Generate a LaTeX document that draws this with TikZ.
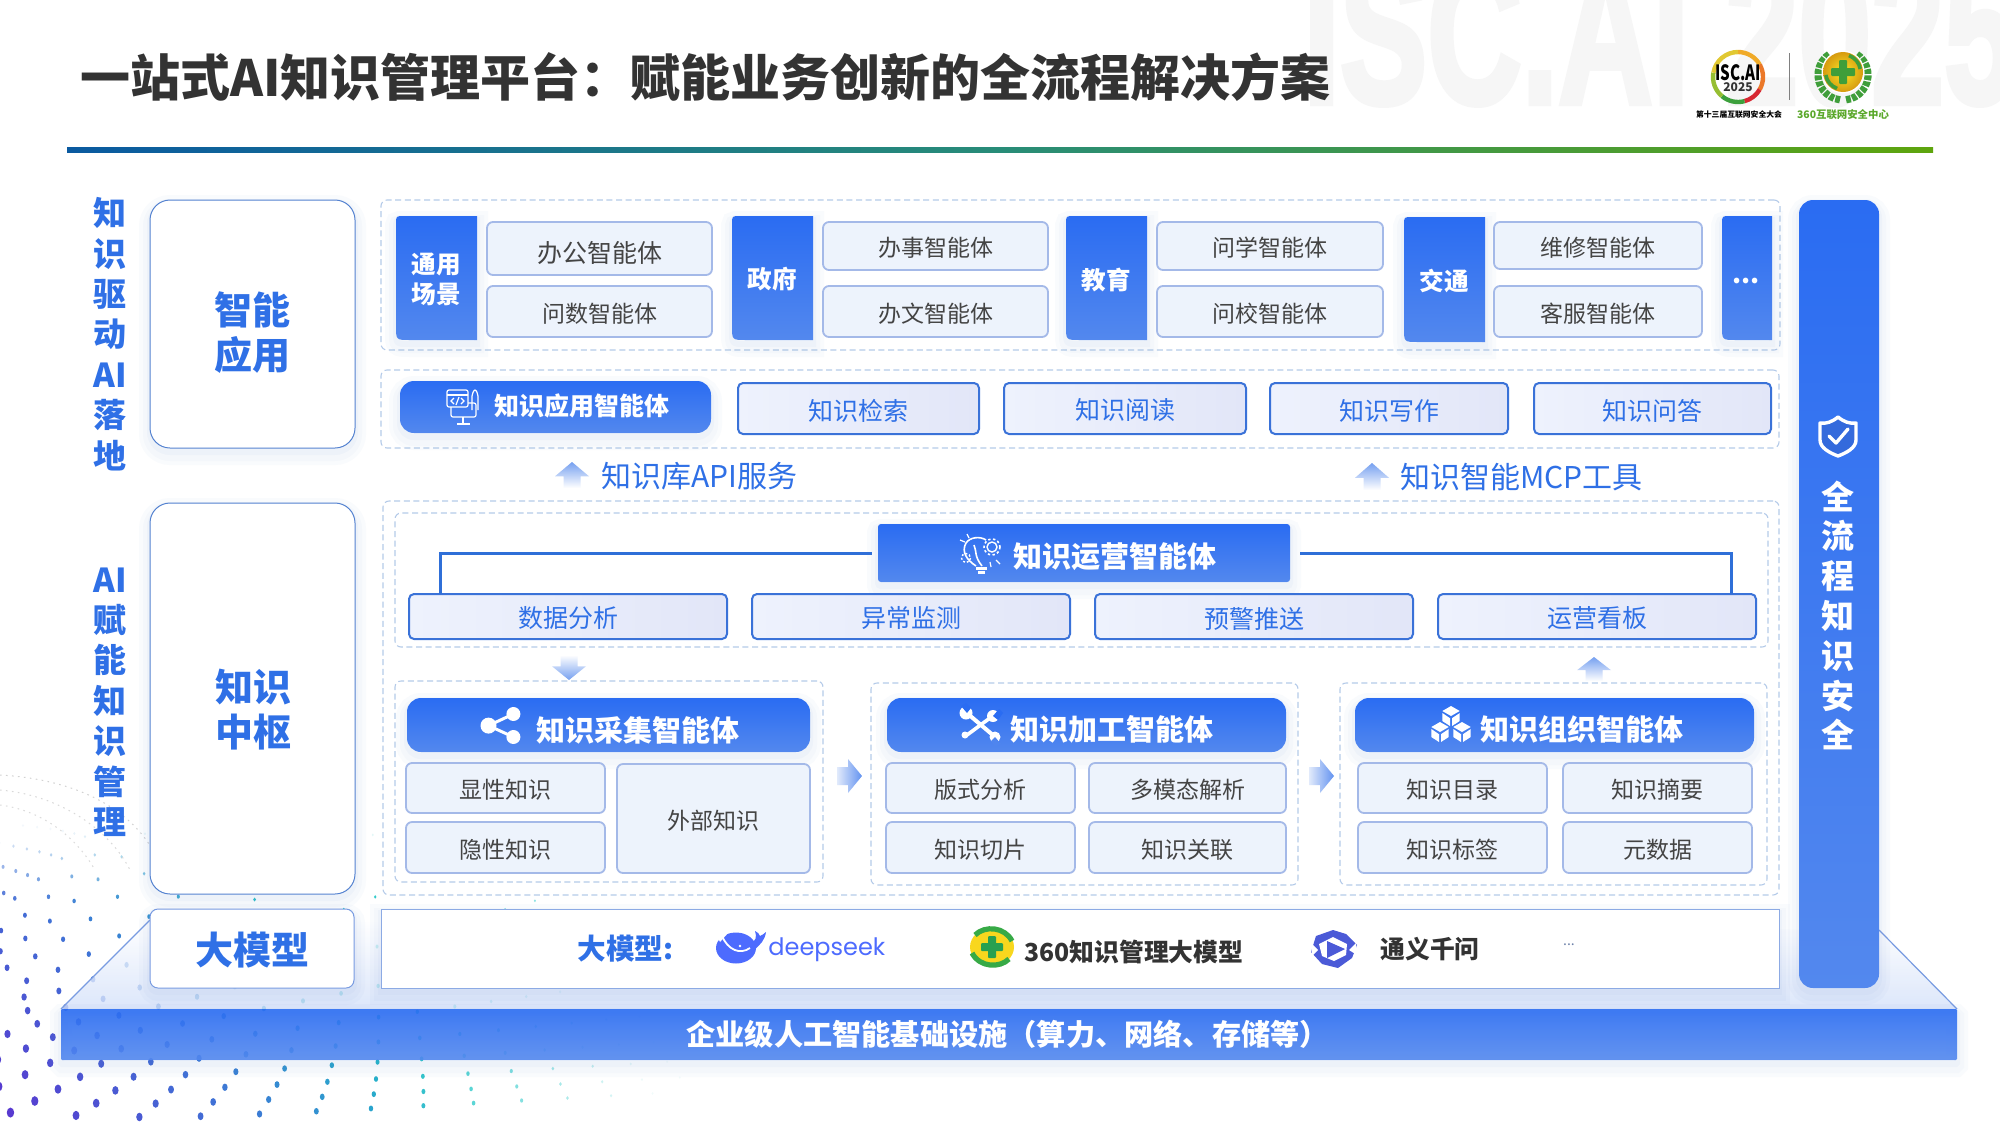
\documentclass[tikz,border=0pt]{standalone}
\usepackage{fontspec}
\setmainfont{Noto Sans CJK SC}
\newfontfamily\dsfont{Poppins}
\newfontfamily\wmfont[BoldFeatures={FakeBold=3}]{Liberation Sans}
\usetikzlibrary{calc}
\definecolor{gtop}{HTML}{2A6CF2}
\definecolor{gbot}{HTML}{5388EE}
\definecolor{blu}{HTML}{2F70E6}
\definecolor{shc}{HTML}{5A80C8}
\definecolor{dk}{HTML}{333333}
\definecolor{gy}{HTML}{444444}
\definecolor{ds}{HTML}{4D6BFE}
\definecolor{grn}{HTML}{3F9E3A}
\definecolor{edgeb}{HTML}{789BE1}
\definecolor{subf}{HTML}{EDF3FC}
\definecolor{subd}{HTML}{A4B9E8}
\definecolor{bbl}{HTML}{EEF2FD}
\definecolor{bbr}{HTML}{E2E6F8}
\definecolor{bbd}{HTML}{3A72D8}
\definecolor{sidd}{HTML}{5482D0}
\definecolor{modd}{HTML}{8CAAE4}
\definecolor{connc}{HTML}{2F6FD8}
\definecolor{arrc}{HTML}{76A0F0}
\definecolor{ral}{HTML}{E1EAFB}
\definecolor{rad}{HTML}{6292F0}
\definecolor{wmc}{HTML}{F6F6F6}
\definecolor{plat}{HTML}{D4E1FA}
\definecolor{linl}{HTML}{0A5AA0}
\definecolor{linm}{HTML}{288C78}
\definecolor{linr}{HTML}{5EA50D}
\definecolor{ra}{HTML}{F0AA28}
\definecolor{rb}{HTML}{EB7828}
\definecolor{rc}{HTML}{D72832}
\definecolor{rd}{HTML}{3CA03C}
\definecolor{re}{HTML}{96BE32}
\definecolor{rf}{HTML}{E1C832}
\definecolor{glin}{HTML}{FAE628}
\definecolor{glout}{HTML}{D79B0F}
\definecolor{capg}{HTML}{5AA82A}
\definecolor{qy}{HTML}{F8D71E}
\definecolor{qg}{HTML}{37AA46}
\definecolor{qp}{HTML}{28A050}
\definecolor{tyc}{HTML}{4B5AD7}
\definecolor{morec}{HTML}{6E82AA}
\definecolor{shi}{HTML}{346ADC}
\definecolor{dashc}{HTML}{B5CBE9}
\tikzset{
 x=.5pt,y=-.5pt,
 softshadow/.style={
  preaction={draw=shc,draw opacity=.03,line width=11pt,transform canvas={yshift=-3pt}},
  preaction={draw=shc,draw opacity=.03,line width=7pt,transform canvas={yshift=-3pt}},
  preaction={draw=shc,draw opacity=.04,line width=3pt,transform canvas={yshift=-2pt}}},
 dashbox/.style={draw=dashc,fill=white,line width=.55pt,dash pattern=on 3pt off 1.8pt,rounded corners=3pt},
 agentbar/.style={softshadow,top color=gtop,bottom color=gbot,rounded corners=7pt,text=white,font=\fontsize{14.5}{17}\bfseries\selectfont},
 opsbar/.style={softshadow,top color=gtop,bottom color=gbot,rounded corners=1.5pt,text=white,font=\fontsize{14.5}{17}\bfseries\selectfont},
 subbox/.style={fill=subf,draw=subd,line width=.9pt,rounded corners=3pt,text=gy,font=\fontsize{11.5}{14}\selectfont},
 bluebox/.style={left color=bbl,right color=bbr,draw=bbd,line width=1pt,rounded corners=2.5pt,text=blu,font=\fontsize{12.5}{15}\selectfont},
 sidebox/.style={softshadow,fill=white,draw=sidd,line width=.5pt,rounded corners=10pt},
 sidelabel/.style={text=blu,align=center,inner sep=0pt,font=\fontsize{19}{22.5}\bfseries\selectfont},
 modelbox/.style={fill=white,draw=modd,line width=.5pt,softshadow},
 sidetext/.style={text=blu,align=center,inner sep=0pt,font=\fontsize{16.5}{20.2}\bfseries\selectfont},
 tiletext/.style={text=white,align=center,inner sep=0pt,font=\fontsize{12.3}{15}\bfseries\selectfont},
 flowtext/.style={text=blu,anchor=west,inner sep=0pt,font=\fontsize{15}{18}\selectfont},
 conn/.style={draw=connc,line width=1.5pt},
 upflow/.style={bottom color=white,top color=arrc,draw=none},
 iconline/.style={draw=white,line width=.6pt},
 logotext/.style={text=dk,anchor=west,inner sep=0pt,font=\fontsize{12.4}{15}\bfseries\selectfont},
}
\newcommand\myBox[7]{%
 \pgfmathsetmacro\myW{(#4-#2)*.5}\pgfmathsetmacro\myH{(#5-#3)*.5}%
 \node[#6,minimum width=\myW pt,minimum height=\myH pt,inner sep=0pt] (#1) at ({(#2+#4)/2},{(#3+#5)/2}) {\raisebox{0pt}[\dimexpr\height+2pt\relax][\depth]{#7}};}
\newcommand\myTile[6]{%
 \path[softshadow,top color=gtop,bottom color=gbot] (#4,#3) -- ({#2+8},#3) .. controls (#2,#3) .. (#2,{#3+8}) -- (#2,{#5-14}) .. controls (#2,#5) .. ({#2+14},#5) -- (#4,#5) -- cycle;
 \node[tiletext] (#1) at ({(#2+#4)/2},{(#3+#5)/2+1.5}) {#6};}
\newcommand\myUp[4]{% cx, top, bottom, halfwidth
 \path[upflow] (#1,#2) -- ({#1+#4},{#2+(#3-#2)*.55}) -- ({#1+#4*.5},{#2+(#3-#2)*.55}) -- ({#1+#4*.5},#3) -- ({#1-#4*.5},#3) -- ({#1-#4*.5},{#2+(#3-#2)*.55}) -- ({#1-#4},{#2+(#3-#2)*.55}) -- cycle;}
\newcommand\myDown[4]{%
 \path[top color=white,bottom color=arrc] (#1,#3) -- ({#1+#4},{#3-(#3-#2)*.55}) -- ({#1+#4*.5},{#3-(#3-#2)*.55}) -- ({#1+#4*.5},#2) -- ({#1-#4*.5},#2) -- ({#1-#4*.5},{#3-(#3-#2)*.55}) -- ({#1-#4},{#3-(#3-#2)*.55}) -- cycle;}
\newcommand\myRight[2]{% x1,cy
 \path[left color=ral,right color=rad] (#1,{#2-9}) -- ({#1+11},{#2-9}) -- ({#1+11},{#2-17}) -- ({#1+25},#2) -- ({#1+11},{#2+17}) -- ({#1+11},{#2+9}) -- (#1,{#2+9}) -- cycle;}
\newcommand\myCube[3]{%
 \fill[white] (#1,{#2-#3}) -- ({#1+.87*#3},{#2-.5*#3}) -- (#1,#2) -- ({#1-.87*#3},{#2-.5*#3}) -- cycle;
 \fill[white] ({#1-.87*#3},{#2-.5*#3+2}) -- ({#1-1},{#2+2.2}) -- ({#1-1},{#2+#3}) -- ({#1-.87*#3},{#2+.5*#3}) -- cycle;
 \fill[white] ({#1+.87*#3},{#2-.5*#3+2}) -- ({#1+1},{#2+2.2}) -- ({#1+1},{#2+#3}) -- ({#1+.87*#3},{#2+.5*#3}) -- cycle;}
\begin{document}
\begin{tikzpicture}
\useasboundingbox (0,0) rectangle (2000,1125);
\fill[white] (0,0) rectangle (2000,1125);
% watermark
\begin{scope}
 \clip (0,0) rectangle (2000,1125);
 \node[anchor=base west,inner sep=0pt,text=wmc] (watermark) at (1303,103) {\scalebox{.655}[1]{\wmfont\fontsize{100}{110}\bfseries\selectfont ISC.AI 2025}};
\end{scope}
% dot field
\begin{scope}
 \clip (0,760) rectangle (700,1125);
 \foreach \rg in {0,...,26}{
  \pgfmathsetmacro\ryt{1117-13.3*\rg}
  \pgfmathsetmacro\rxt{max(150-15*\rg,-60)}
  \pgfmathsetmacro\rmt{min(.055+.0007*\rg*\rg*\rg,1.1)}
  \pgfmathsetmacro\rdt{max(67-3.5*\rg,24)}
  \pgfmathsetmacro\rat{10.5+25*\rg*(1-\rg/60)}
  \foreach \nn in {-14,...,13}{
   \pgfmathsetmacro\xr{\rat+\nn*\rdt}
   \pgfmathsetmacro\xx{\xr-.00025*abs(\xr)*\xr}
   \pgfmathparse{(\xx>-6 && \xx<680) ? 1 : 0}
   \ifdim\pgfmathresult pt>.5pt
   \pgfmathsetmacro\dd{(\xx-\rxt)/100}
   \pgfmathsetmacro\hy{100*sqrt(\dd*\dd+.64)-80}
   \pgfmathsetmacro\yy{\ryt-\rmt*\hy}
   \pgfmathparse{(\yy<1132 && \yy>825) ? 1 : 0}
   \ifdim\pgfmathresult pt>.5pt
    \pgfmathsetmacro\sa{max(0,min(1,(\xx+.9*(1120-\yy))/480))}
    \pgfmathsetmacro\fa{max(.06,min(1,min((660-\xx)/260,(\yy-825)/80)))}
    \pgfmathsetmacro\rr{1+3.4*max(0,1-\xx/700)*max(0,min(1,(\yy-800)/300))}
    \pgfmathsetmacro\sb{min(1,\sa*2)}
    \pgfmathsetmacro\sd{max(0,\sa*2-1)}
    \pgfmathsetmacro\cra{.353-.106*\sb-.137*\sd}
    \pgfmathsetmacro\cga{.208+.247*\sb+.321*\sd}
    \pgfmathsetmacro\cba{.812+.028*\sb-.064*\sd}
    \definecolor{dotc}{rgb}{\cra,\cga,\cba}
    \fill[dotc,opacity=\fa] (\xx,\yy) ellipse [x radius={.85*\rr},y radius={1.15*\rr}];
   \fi
   \fi
  }
 }
 \draw[gray!35,line width=.5pt,dash pattern=on .8pt off 2.2pt] (0,775) .. controls (90,780) and (150,820) .. (165,880);
 \draw[gray!30,line width=.5pt,dash pattern=on .8pt off 2.2pt] (0,790) .. controls (60,795) and (110,830) .. (130,870);
 \draw[gray!28,line width=.5pt,dash pattern=on .8pt off 2.2pt] (0,805) .. controls (40,810) and (75,835) .. (95,870);
\end{scope}
% platform
\path[top color=white,bottom color=plat,fill opacity=.8] (61,1009) -- (150,920) -- (1879,930) -- (1957,1009) -- cycle;
\draw[edgeb,line width=.6pt] (61,1009) -- (150,920);
\draw[edgeb,line width=.6pt] (1957,1009) -- (1879,930);
\myBox{basebar}{61}{1009}{1957}{1060}{softshadow,top color=gtop,bottom color=gbot,fill opacity=.9,rounded corners=.6pt}{}
\node[anchor=west,text=white,inner sep=0pt,font=\fontsize{14.6}{17}\bfseries\selectfont] (basetext) at (686,1034) {企业级人工智能基础设施（算力、网络、存储等）};
% title
\node[anchor=west,inner sep=0pt,text=dk,font=\fontsize{25}{30}\bfseries\selectfont] (title) at (80,77) {一站式AI知识管理平台：赋能业务创新的全流程解决方案};
\path[left color=linl,right color=linr,middle color=linm] (67,147) rectangle (1933,152);
% logos
\foreach \a/\b/\c in {-90/-30/ra,-30/30/rb,30/75/rc,75/130/rd,130/190/re,190/270/rf}{
 \draw[draw=\c,line width=2.2pt] ($(1738,77)+(\a:25)$) arc (\a:\b:25);
}
\node[inner sep=0pt,font=\fontsize{10.5}{12}\bfseries\selectfont,text=black] (iscname) at (1738,73) {\scalebox{.72}[1]{ISC.AI}};
\node[inner sep=0pt,font=\fontsize{6}{8}\bfseries\selectfont,text=dk] (iscyear) at (1738,87) {2025};
\draw[gray,line width=.5pt] (1789,53) -- (1789,100);
\draw[grn,line width=3.6pt,dash pattern=on 2.4pt off .7pt] ($(1843,75)+(97:25)$) arc (97:238:25);
\draw[grn,line width=3.6pt,dash pattern=on 2.4pt off .7pt] ($(1843,75)+(83:25)$) arc (83:-58:25);
\fill[white] (1843,72) circle [radius=21.5];
\shade[inner color=glin,outer color=glout] (1843,72) circle [radius=20];
\draw[grn,line width=1.8pt] ($(1843,72)+(-70:17.5)$) arc (-70:-10:17.5);
\draw[grn,line width=1.8pt] ($(1843,72)+(110:17.5)$) arc (110:170:17.5);
\fill[grn,rounded corners=.5pt] (1839,60) rectangle (1847,84);
\fill[grn,rounded corners=.5pt] (1831,68) rectangle (1855,76);
\node[inner sep=0pt,font=\fontsize{3.9}{5}\bfseries\selectfont,text=black] (isccap) at (1739,115) {第十三届互联网安全大会};
\node[inner sep=0pt,font=\fontsize{5.2}{6}\bfseries\selectfont,text=capg] (qhcap) at (1843,115) {360互联网安全中心};
% left column
\node[sidetext] (leftA) at (110,334) {知\\识\\驱\\动\\AI\\落\\地};
\node[sidetext] (leftB) at (110,702) {AI\\赋\\能\\知\\识\\管\\理};
\myBox{sideApp}{150}{200}{355}{448}{sidebox}{}
\node[sidelabel] (sideAppT) at (252,332.5) {智能\\应用};
\myBox{sideHub}{150}{503}{355}{894}{sidebox}{}
\node[sidelabel] (sideHubT) at (253,709.5) {知识\\中枢};
\myBox{sideModel}{150}{909}{354}{988}{sidebox,rounded corners=4pt,draw=edgeb}{}
\node[sidelabel] (sideModelT) at (252,950) {大模型};
% row 1
\myBox{dash1}{381}{200}{1780}{350}{dashbox}{}
\myTile{tGen}{396}{216}{477}{340}{通用\\场景}
\myBox{s1}{487}{222}{712}{275}{subbox,font=\fontsize{12.5}{15}\selectfont}{\raisebox{0pt}[\dimexpr\height+3pt\relax][\depth]{办公智能体}}
\myBox{s2}{487}{286}{712}{337}{subbox}{问数智能体}
\myTile{tGov}{732}{216}{813}{340}{政府}
\myBox{s3}{823}{222}{1048}{270}{subbox}{办事智能体}
\myBox{s4}{823}{286}{1048}{337}{subbox}{办文智能体}
\myTile{tEdu}{1066}{216}{1147}{340}{教育}
\myBox{s5}{1157}{222}{1383}{270}{subbox}{问学智能体}
\myBox{s6}{1157}{286}{1383}{337}{subbox}{问校智能体}
\myTile{tTra}{1404}{217}{1485}{342}{交通}
\myBox{s7}{1494}{222}{1702}{269}{subbox}{维修智能体}
\myBox{s8}{1494}{286}{1702}{337}{subbox}{客服智能体}
\myTile{tMore}{1722}{216}{1772}{340}{}
\node[tiletext,font=\fontsize{13}{15}\bfseries\selectfont] (tMoreT) at (1746,281) {...};
% row 2
\myBox{dash2}{381}{370}{1779}{448}{dashbox}{}
\myBox{appAgent}{400}{381}{711}{433}{agentbar,font=\fontsize{12.5}{15}\bfseries\selectfont}{}
\node[text=white,inner sep=0pt,font=\fontsize{12.5}{15}\bfseries\selectfont] (appAgentT) at (582,406) {知识应用智能体};
\myBox{a1}{738}{383}{979}{434}{bluebox}{知识检索}
\myBox{a2}{1004}{383}{1246}{434}{bluebox}{知识阅读}
\myBox{a3}{1270}{383}{1508}{434}{bluebox}{知识写作}
\myBox{a4}{1534}{383}{1771}{434}{bluebox}{知识问答}
% monitor icon
\draw[iconline,rounded corners=1pt] (447,390) rectangle (468,407);
\draw[iconline] (447,395) -- (468,395);
\draw[iconline] (454,398) -- (451,401) -- (454,404) (461,398) -- (464,401) -- (461,404) (459,397) -- (456,405);
\draw[iconline,rounded corners=1pt] (468,403) -- (476,403) -- (476,417) -- (451,417) -- (451,407);
\draw[iconline] (463,417) -- (463,423) (457,424) -- (470,424);
\draw[iconline,rounded corners=1pt] (472,410) -- (472,394) -- (475,389) -- (478,394) -- (478,410);
% flow labels
\myUp{572}{462}{488}{17}
\node[flowtext] (apiT) at (601,476) {知识库API服务};
\myUp{1372}{463}{490}{17}
\node[flowtext] (mcpT) at (1400,477) {知识智能MCP工具};
% hub
\myBox{dash3}{383}{501}{1779}{895}{dashbox}{}
\myBox{dashOps}{395}{513}{1768}{647}{dashbox}{}
\myBox{opsAgent}{878}{524}{1290}{582}{opsbar}{}
\node[text=white,inner sep=0pt,font=\fontsize{14.5}{17}\bfseries\selectfont] (opsAgentT) at (1115,557) {知识运营智能体};
\myBox{o1}{409}{594}{727}{639}{bluebox}{数据分析}
\myBox{o2}{752}{594}{1070}{639}{bluebox}{异常监测}
\myBox{o3}{1095}{594}{1413}{639}{bluebox}{预警推送}
\myBox{o4}{1438}{594}{1756}{639}{bluebox}{运营看板}
\coordinate (c1) at (440,594);
\coordinate (c4) at (1731,594);
\draw[conn,shorten <=3pt] (opsAgent.west) -| (c1);
\draw[conn,shorten <=5pt] (opsAgent.east) -| (c4);
% bulb icon
\draw[iconline,line width=.8pt] (982,566) .. controls (974,556) and (977,552) .. (974,545);
\draw[iconline,line width=.8pt] (976,566) .. controls (967,560) and (961,552) .. (966,543) .. controls (970,537) and (980,536) .. (986,540);
\fill[white] (976,567) rectangle (987,570);
\fill[white] (978,571) rectangle (985,574);
\draw[white,line width=.8pt,dash pattern=on 1.2pt off 1.2pt] (992,547) circle [radius=8];
\draw[white,line width=.7pt] (992,547) circle [radius=5];
\draw[white,line width=.7pt,dash pattern=on 1pt off 1pt] (966,558) circle [radius=4.5];
\draw[iconline] (960,540) -- (965,542) (967,534) -- (969,538) (996,560) -- (1000,564) (990,562) -- (991,567);
% arrows between
\myDown{569}{655}{680}{17}
\myUp{1594}{657}{681}{17}
% collect
\myBox{dashC}{395}{681}{823}{882}{dashbox}{}
\myBox{cHead}{407}{698}{810}{752}{agentbar}{}
\node[text=white,inner sep=0pt,font=\fontsize{14.5}{17}\bfseries\selectfont] (cHeadT) at (638,730) {知识采集智能体};
\draw[white,line width=1.5pt] (513.4,714) -- (488.5,725.6) -- (513.4,737);
\fill[white] (488.5,725.6) circle [radius=8] (513.4,714) circle [radius=7] (513.4,737) circle [radius=7];
\myBox{c1b}{406}{763}{605}{813}{subbox}{显性知识}
\myBox{c2b}{406}{822}{605}{873}{subbox}{隐性知识}
\myBox{c3b}{617}{764}{810}{873}{subbox}{外部知识}
\myRight{837}{776}
% process
\myBox{dashP}{871}{683}{1298}{885}{dashbox}{}
\myBox{pHead}{887}{698}{1286}{752}{agentbar}{}
\node[text=white,inner sep=0pt,font=\fontsize{14.5}{17}\bfseries\selectfont] (pHeadT) at (1112,729) {知识加工智能体};
\draw[white,line width=2pt] (968,714) -- (994,736);
\draw[white,line width=1.8pt] (994,715) -- (967,735);
\fill[white] (966,713) circle [radius=6.5] (995,737) circle [radius=5.5] (993,716) circle [radius=6];
\fill[white] (965,735) circle [radius=3.5];
\fill[gtop] (961,706) -- (967,713) -- (971,708) -- (966,703) -- cycle;
\fill[gtop] (999,709) -- (993,716) -- (998,720) -- (1003,713) -- cycle;
\fill[gbot!90!gtop] (1001,744) -- (995,737) -- (991,741) -- (995,747) -- cycle;
\myBox{p1}{886}{763}{1075}{813}{subbox}{版式分析}
\myBox{p2}{1089}{763}{1286}{813}{subbox}{多模态解析}
\myBox{p3}{886}{822}{1075}{873}{subbox}{知识切片}
\myBox{p4}{1089}{822}{1286}{873}{subbox}{知识关联}
\myRight{1309}{776}
% organize
\myBox{dashO}{1340}{683}{1767}{885}{dashbox}{}
\myBox{oHead}{1355}{698}{1754}{752}{agentbar}{}
\node[text=white,inner sep=0pt,font=\fontsize{14.5}{17}\bfseries\selectfont] (oHeadT) at (1582,729) {知识组织智能体};
\myCube{1451}{716}{10}
\myCube{1440}{732}{10}
\myCube{1462}{732}{10}
\myBox{g1}{1358}{763}{1547}{813}{subbox}{知识目录}
\myBox{g2}{1563}{763}{1752}{813}{subbox}{知识摘要}
\myBox{g3}{1358}{822}{1547}{873}{subbox}{知识标签}
\myBox{g4}{1563}{822}{1752}{873}{subbox}{元数据}
% model row
\myBox{modelRow}{381}{909}{1779}{988}{modelbox}{}
\node[text=blu,anchor=west,inner sep=0pt,font=\fontsize{14.3}{17}\bfseries\selectfont] (modelLbl) at (577,949) {大模型:};
% whale
\fill[ds] (736,948) ellipse [x radius=20,y radius=15.5];
\fill[ds] (750,944) .. controls (756,941) and (757,937) .. (755,931) .. controls (758,932) and (759,934) .. (760,936) .. controls (762,935) and (764,934) .. (766,932) .. controls (765,940) and (760,945) .. (754,950) -- cycle;
\draw[white,line width=.9pt] (722,936) .. controls (728,950) and (740,955) .. (750,948);
\fill[white] (716,933) -- (728,933) -- (720,942) -- cycle;
\fill[white] (740,946) circle [radius=1.3];
\node[text=ds,anchor=west,inner sep=0pt,font=\fontsize{12}{14}\dsfont\selectfont] (dsT) at (768,950) {deepseek};
\fill[qy] (992,947) ellipse [x radius=22,y radius=19];
\draw[qg,line width=2.6pt] (975,935) .. controls (985,925) and (1005,927) .. (1012,941);
\draw[qg,line width=2.6pt] (972,953) .. controls (980,968) and (1000,968) .. (1009,959);
\fill[qp,rounded corners=.5pt] (988,936) rectangle (996,958);
\fill[qp,rounded corners=.5pt] (981,943) rectangle (1003,951);
\node[logotext] (qhT) at (1024,952) {360知识管理大模型};
\fill[tyc] (1333,930) -- (1346,934) -- (1357,945) -- (1352,958) -- (1338,968) -- (1322,964) -- (1311,952) -- (1316,936) -- cycle;
\fill[white] (1333,937) -- (1347,944) -- (1346,955) -- (1334,961) -- (1322,956) -- (1319,944) -- cycle;
\fill[tyc] (1327,941) -- (1345,949) -- (1327,958) -- cycle;
\fill[white] (1311,943) -- (1318,950) -- (1312,956) -- cycle;
\fill[white] (1357,955) -- (1349,950) -- (1356,943) -- cycle;
\node[logotext] (tyT) at (1380,949) {通义千问};
\node[inner sep=0pt,text=morec,font=\fontsize{7}{9}\selectfont] (moreM) at (1569,945) {...};
% right bar
\myBox{rightBar}{1799}{200}{1879}{988}{softshadow,top color=gtop,bottom color=gbot,rounded corners=7pt}{}
\node[text=white,inner sep=0pt,align=center,font=\fontsize{16.5}{19.9}\bfseries\selectfont] (rightT) at (1838,615.5) {全\\流\\程\\知\\识\\安\\全};
\draw[white,line width=1.7pt,line join=round,fill=shi] (1838,417) .. controls (1832,422) and (1826,424) .. (1820,423) -- (1820,440) .. controls (1820,448) and (1830,453) .. (1838,456) .. controls (1846,453) and (1856,448) .. (1856,440) -- (1856,423) .. controls (1850,424) and (1844,422) .. (1838,417) -- cycle;
\draw[white,line width=1.7pt,line cap=round,line join=round] (1829,436) -- (1836,443) -- (1848,429);
\end{tikzpicture}
\end{document}
